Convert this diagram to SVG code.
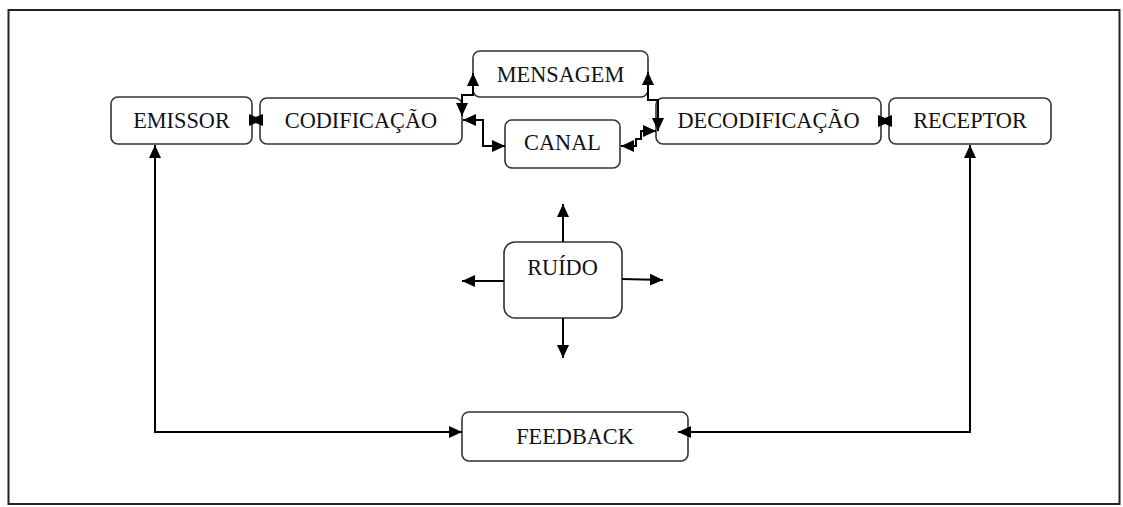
<svg xmlns="http://www.w3.org/2000/svg" width="1123" height="507" viewBox="0 0 1123 507">
  <style>
    .box { fill: #ffffff; stroke: #333333; stroke-width: 1.6; }
    .lbl { font-family: "Liberation Serif", "Times New Roman", serif; font-size: 22.3px; fill: #111111; text-anchor: middle; }
    .con { fill: none; stroke: #000000; stroke-width: 2; }
    .arr { marker-end: url(#ah); }
    .arr2 { marker-start: url(#ah); marker-end: url(#ah); }
    .bow { marker-start: url(#bt); marker-end: url(#bt); }
  </style>
  <defs>
    <marker id="ah" viewBox="0 0 13 12" refX="13" refY="6" markerWidth="13" markerHeight="12" markerUnits="userSpaceOnUse" orient="auto-start-reverse">
      <path d="M0,0 L13,6 L0,12 z" fill="#000000"/>
    </marker>
    <marker id="bt" viewBox="0 0 14 12" refX="14" refY="6" markerWidth="14" markerHeight="12" markerUnits="userSpaceOnUse" orient="auto-start-reverse">
      <path d="M0,0 L14,6 L0,12 z" fill="#000000"/>
    </marker>
  </defs>

  <rect x="0" y="0" width="1123" height="507" fill="#ffffff"/>
  <rect id="frame" x="8.5" y="10" width="1111" height="494" fill="none" stroke="#222222" stroke-width="2"/>

  <g id="emissor">
    <rect class="box" x="111" y="97" width="141" height="47" rx="7"/>
    <text class="lbl" x="181.5" y="128">EMISSOR</text>
  </g>
  <g id="codificacao">
    <rect class="box" x="260" y="98" width="202" height="46" rx="7"/>
    <text class="lbl" x="361" y="128">CODIFICAÇÃO</text>
  </g>
  <g id="mensagem">
    <rect class="box" x="473" y="51" width="175" height="46" rx="7"/>
    <text class="lbl" x="560.5" y="82">MENSAGEM</text>
  </g>
  <g id="canal">
    <rect class="box" x="505" y="120" width="115" height="48" rx="7"/>
    <text class="lbl" x="562.5" y="150">CANAL</text>
  </g>
  <g id="decodificacao">
    <rect class="box" x="656" y="98" width="225" height="46" rx="7"/>
    <text class="lbl" x="768.5" y="128">DECODIFICAÇÃO</text>
  </g>
  <g id="receptor">
    <rect class="box" x="889" y="98" width="162" height="46" rx="7"/>
    <text class="lbl" x="970" y="128">RECEPTOR</text>
  </g>
  <g id="ruido">
    <rect class="box" x="504" y="242" width="118" height="76" rx="11"/>
    <text class="lbl" x="562.5" y="275">RUÍDO</text>
  </g>
  <g id="feedback">
    <rect class="box" x="462" y="412" width="226" height="49" rx="7"/>
    <text class="lbl" x="575" y="444">FEEDBACK</text>
  </g>

  <g id="connectors">
    <path class="con bow" d="M249 120 H263"/>
    <path class="con bow" d="M878 121 H892"/>
    <path class="con arr2" d="M462 116 V95 H473 V73"/>
    <path class="con arr2" d="M463 120 H483 V146 H505"/>
    <path class="con arr2" d="M648 72 V100 H658 V131"/>
    <path class="con arr2" d="M621 146 H636 V139 H641 V131 H656"/>
    <path class="con arr" d="M563 242 V204"/>
    <path class="con arr" d="M563 318 V358"/>
    <path class="con arr" d="M504 281 H462"/>
    <path class="con arr" d="M622 279 L663 280"/>
    <path class="con arr2" d="M462 432 H155 V145"/>
    <path class="con arr2" d="M678 432 H970 V145"/>
  </g>
</svg>
